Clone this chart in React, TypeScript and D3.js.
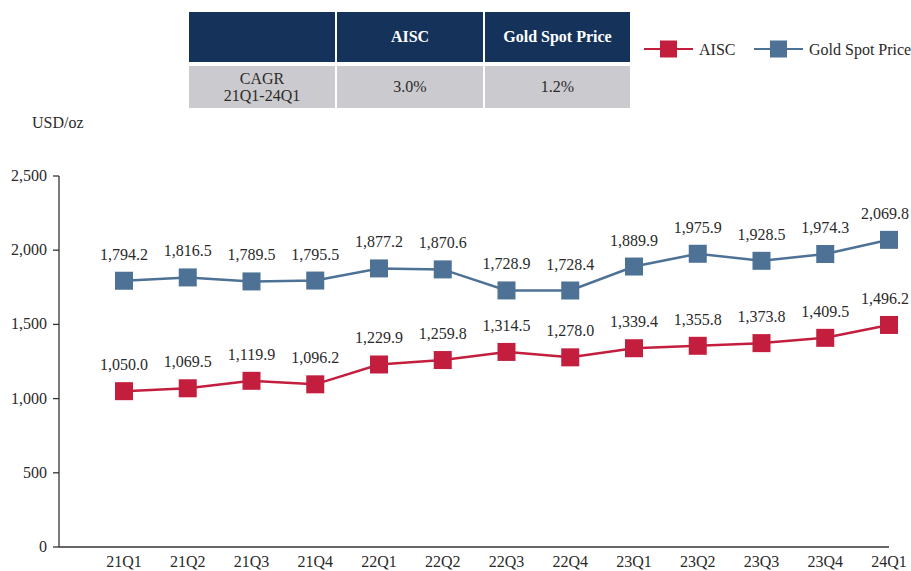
import React, { useEffect, useRef } from "react";
import * as d3 from "d3";

const categories = ["21Q1","21Q2","21Q3","21Q4","22Q1","22Q2","22Q3","22Q4","23Q1","23Q2","23Q3","23Q4","24Q1"];
const aisc = [1050.0,1069.5,1119.9,1096.2,1229.9,1259.8,1314.5,1278.0,1339.4,1355.8,1373.8,1409.5,1496.2];
const gold = [1794.2,1816.5,1789.5,1795.5,1877.2,1870.6,1728.9,1728.4,1889.9,1975.9,1928.5,1974.3,2069.8];
const yTicks = [0,500,1000,1500,2000,2500];
const tableHeader = ["", "AISC", "Gold Spot Price"];
const tableRow = [["CAGR","21Q1-24Q1"], ["3.0%"], ["1.2%"]];
const seriesNames = ["AISC", "Gold Spot Price"];

const RED = "#C41E3E";
const BLUE = "#4E7196";
const NAVY = "#15325A";
const GRAY = "#CBCACE";
const TEXT = "#2a2a2a";
const FONT = "'Liberation Serif', 'Times New Roman', serif";
const FS = 16;

export default function App() {
  const ref = useRef<SVGSVGElement>(null);
  useEffect(() => {
    const svg = d3.select(ref.current);
    svg.selectAll("*").remove();
    const W = 911, H = 571;
    const x = d3.scalePoint<string>().domain(categories).range([124, 889]);
    const y = d3.scaleLinear().domain([0, 2500]).range([547, 176]);
    const axisLeft = 59;

    // Table
    const cols = [[189, 335], [337, 483], [485, 630]];
    const g = svg.append("g").attr("font-family", FONT);
    cols.forEach((c, i) => {
      g.append("rect").attr("x", c[0]).attr("y", 12).attr("width", c[1] - c[0]).attr("height", 50).attr("fill", NAVY);
      g.append("rect").attr("x", c[0]).attr("y", 66).attr("width", c[1] - c[0]).attr("height", 42).attr("fill", GRAY);
      if (tableHeader[i]) {
        g.append("text").attr("x", (c[0] + c[1]) / 2).attr("y", 42).attr("text-anchor", "middle")
          .attr("font-size", FS).attr("font-weight", "bold").attr("fill", "#fff").text(tableHeader[i]);
      }
      const lines = tableRow[i];
      lines.forEach((t, j) => {
        const cy = 87 + (j - (lines.length - 1) / 2) * 17 + 5;
        g.append("text").attr("x", (c[0] + c[1]) / 2).attr("y", cy).attr("text-anchor", "middle")
          .attr("font-size", FS).attr("fill", TEXT).text(t);
      });
    });

    // Legend
    const leg = [{ name: seriesNames[0], color: RED, x0: 644 }, { name: seriesNames[1], color: BLUE, x0: 754 }];
    leg.forEach((l) => {
      g.append("line").attr("x1", l.x0).attr("x2", l.x0 + 49).attr("y1", 49).attr("y2", 49)
        .attr("stroke", l.color).attr("stroke-width", 2);
      g.append("rect").attr("x", l.x0 + 24.5 - 8.5).attr("y", 49 - 8.5).attr("width", 17).attr("height", 17).attr("fill", l.color);
      g.append("text").attr("x", l.x0 + 55).attr("y", 54.5).attr("font-size", FS).attr("fill", TEXT).text(l.name);
    });

    // Unit
    g.append("text").attr("x", 32).attr("y", 128).attr("font-size", FS).attr("fill", TEXT).text("USD/oz");

    // Axes
    g.append("line").attr("x1", axisLeft).attr("x2", axisLeft).attr("y1", y(2500)).attr("y2", y(0))
      .attr("stroke", "#333").attr("stroke-width", 1.3);
    g.append("line").attr("x1", axisLeft).attr("x2", x(categories[categories.length - 1])!).attr("y1", y(0)).attr("y2", y(0))
      .attr("stroke", "#333").attr("stroke-width", 1.3);
    yTicks.forEach((t) => {
      g.append("line").attr("x1", axisLeft - 6).attr("x2", axisLeft).attr("y1", y(t)).attr("y2", y(t))
        .attr("stroke", "#333").attr("stroke-width", 1.3);
      g.append("text").attr("x", 47).attr("y", y(t) + 5).attr("text-anchor", "end").attr("font-size", FS)
        .attr("fill", TEXT).text(d3.format(",")(t));
    });
    categories.forEach((c) => {
      g.append("text").attr("x", x(c)!).attr("y", 567).attr("text-anchor", "middle").attr("font-size", FS)
        .attr("fill", TEXT).text(c);
    });

    // Series
    const series = [{ data: gold, color: BLUE }, { data: aisc, color: RED }];
    series.forEach((s) => {
      const line = d3.line<number>().x((_, i) => x(categories[i])!).y((d) => y(d));
      g.append("path").attr("d", line(s.data)).attr("fill", "none").attr("stroke", s.color).attr("stroke-width", 2.5);
      s.data.forEach((v, i) => {
        const cx = x(categories[i])!, cy = y(v);
        g.append("rect").attr("x", cx - 9).attr("y", cy - 9).attr("width", 18).attr("height", 18).attr("fill", s.color);
        const t = g.append("text").attr("x", cx).attr("y", cy - 21).attr("text-anchor", "middle").attr("font-size", FS)
          .attr("fill", TEXT).text(d3.format(",.1f")(v));
        const node = t.node() as SVGTextElement;
        const w = node.getComputedTextLength();
        const maxCx = W - 2 - w / 2;
        if (cx > maxCx) t.attr("x", maxCx);
      });
    });
    svg.attr("width", W).attr("height", H);
  }, []);
  return (
    <svg ref={ref} width={911} height={571} style={{ position: "absolute", left: 0, top: 0, background: "#fff" }} />
  );
}
